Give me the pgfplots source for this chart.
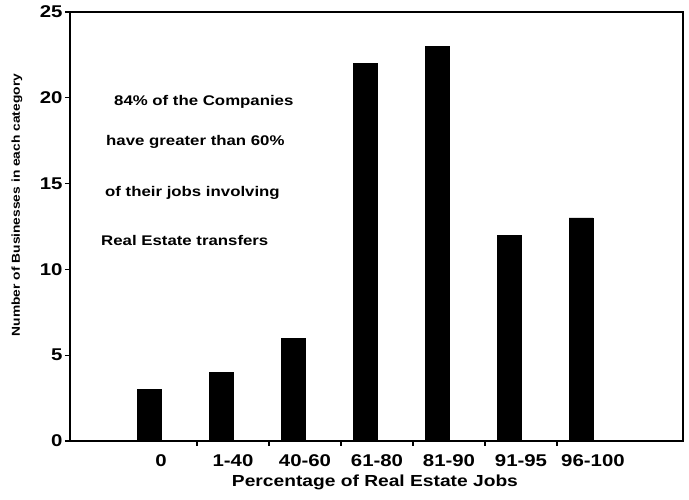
\documentclass[border=0pt]{standalone}
\usepackage{fontspec}
\setmainfont[FakeStretch=1.2]{Liberation Sans}
\usepackage{pgfplots}
\pgfplotsset{compat=1.18}

\begin{document}
\begin{tikzpicture}
\begin{axis}[
  scale only axis, width=613pt, height=429pt,
  xmin=-1.264, xmax=7.25, ymin=0, ymax=25,
  axis line style={line width=1.3pt},
  ytick={0,5,10,15,20,25},
  xtick={0.5,1.5,2.5,3.5,4.5,5.5},
  xticklabels={},
  extra x ticks={0,1,2,3,4,5,6},
  extra x tick labels={0,1-40,40-60,61-80,81-90,91-95,96-100},
  extra x tick style={major tick length=0pt, tick style={draw=none}},
  xtick pos=bottom, ytick pos=left, tick align=outside,
  major tick length=5pt,
  every tick/.style={black, line width=1.3pt},
  /pgf/number format/assume math mode=true,
  yticklabel style={font=\fontsize{17}{17}\selectfont\bfseries, xshift=1pt},
  xticklabel style={font=\fontsize{17}{17}\selectfont\bfseries, yshift=-10pt},
  xlabel={Percentage of Real Estate Jobs},
  ylabel={Number of Businesses in each category},
  xlabel style={font=\fontsize{16}{16}\selectfont\bfseries, at={(axis description cs:0.4975,-0.0956)}, anchor=center},
  ylabel style={font=\fontsize{11.5}{11.5}\selectfont\bfseries, at={(axis description cs:-0.0865,0.55)}, anchor=center},
  clip=false,
]
  \addplot[ybar, bar width=0.333, bar shift=-0.1667, fill=black, draw=black]
    coordinates {(0,3)(1,4)(2,6)(3,22)(4,23)(5,12)(6,13)};
  \begin{scope}[every node/.style={anchor=west, inner sep=0pt, font=\fontsize{14}{14}\selectfont\bfseries}]
    \node at (axis cs:-0.653,19.76) {84\% of the Companies};
    \node at (axis cs:-0.764,17.42) {have greater than 60\%};
    \node at (axis cs:-0.778,14.45) {of their jobs involving};
    \node at (axis cs:-0.833,11.71) {Real Estate transfers};
  \end{scope}
\end{axis}
\pgfresetboundingbox
\path (current axis.south west) ++(-70pt,-59pt) rectangle ++(689pt,500pt);
\end{tikzpicture}
\end{document}
